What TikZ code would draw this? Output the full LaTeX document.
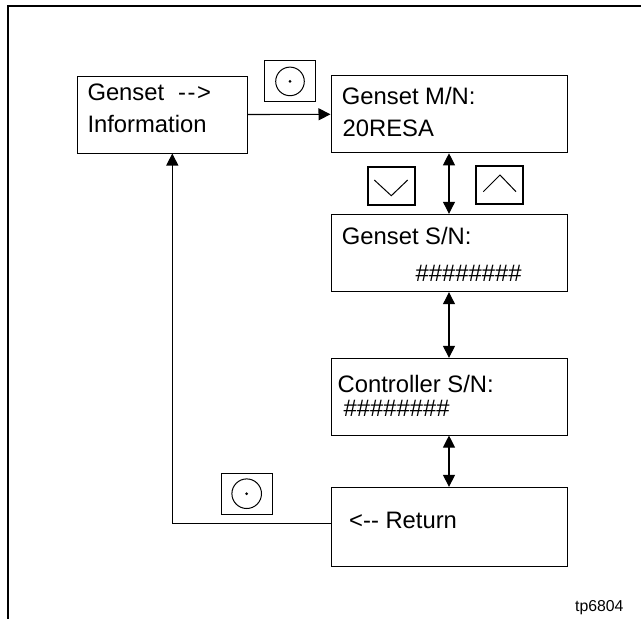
\documentclass[tikz,border=0pt]{standalone}
\usepackage{fontspec}
\setmainfont{Liberation Sans}
\usetikzlibrary{arrows.meta}
\begin{document}
\begin{tikzpicture}[x=1pt,y=-1pt,
  screen/.style={draw,line width=1pt,inner sep=0pt,minimum width=236pt,minimum height=77pt},
  txt/.style={anchor=base west,inner sep=0pt,font=\fontsize{23.8}{28}\selectfont},
  btn/.style={draw,line width=1.1pt,inner sep=0pt,minimum width=51pt,minimum height=41pt},
  kbtn/.style={draw,line width=1.5pt,inner sep=0pt,minimum width=47pt,minimum height=38pt},
  conn/.style={line width=1.1pt},
  tip/.tip={Triangle[length=12pt,width=12pt]}]
\useasboundingbox (0,0) rectangle (641,619);
% frame
\draw[line width=2.3pt] (8,619) -- (8,6) -- (641,6);
% screens
\node[screen,minimum width=170pt] (A) at (162.3,114.5) {};
\node[screen] (B) at (449,114.3) {};
\node[screen,minimum height=77.4pt] (C) at (449,253) {};
\node[screen,minimum height=76.7pt] (D) at (449,396.7) {};
\node[screen,minimum height=78.7pt] (E) at (449,526.7) {};
% texts
\node[txt] (a1) at (87.3,100) {Genset\hspace{14pt}-\kern1.5pt-\kern1.5pt>};
\node[txt] (a2) at (87.3,132.7) {Information};
\node[txt] (b1) at (341.7,104) {Genset M/N:};
\node[txt] (b2) at (342.5,136.7) {20RESA};
\node[txt] (c1) at (341.7,244) {Genset S/N:};
\node[txt] (c2) at (415.5,281.7) {\#\#\#\#\#\#\#\#};
\node[txt] (d1) at (337.5,392.7) {Controller S/N:};
\node[txt] (d2) at (343.5,416) {\#\#\#\#\#\#\#\#};
\node[txt] (e1) at (349,528.3) {<-\kern0pt- Return};
\node[anchor=base west,inner sep=0pt,font=\fontsize{15.8}{18}\selectfont] (tp) at (575,611) {tp6804};
% select buttons
\node[btn] (s1) at (290,81.4) {};
\draw[line width=1pt] (s1.center) circle (14.3pt);
\fill (s1.center) circle (1.5pt);
\node[btn] (s2) at (246.7,493.7) {};
\draw[line width=1pt] (s2.center) circle (14.8pt);
\fill (s2.center) circle (1.5pt);
% down / up buttons
\node[kbtn] (dn) at (391.3,185.8) {};
\draw[line width=1pt] ([shift={(-17,-5.8)}]dn.center) -- ([shift={(0,9.9)}]dn.center) -- ([shift={(16.4,-5.8)}]dn.center);
\node[kbtn] (up) at (499.7,185.2) {};
\draw[line width=1pt] ([shift={(-16.4,6.5)}]up.center) -- ([shift={(0.3,-10.2)}]up.center) -- ([shift={(16.3,6.5)}]up.center);
% connectors
\draw[conn,-tip] (A.east) -- (B.west);
\draw[conn,tip-tip] (B.south) -- (C.north);
\draw[conn,tip-tip] (C.south) -- (D.north);
\draw[conn,tip-tip] (D.south) -- (E.north);
\coordinate (r1) at (172.3,523.7);
\draw[conn,-tip] (E.west |- r1) -- (r1) -- (r1 |- A.south);
\end{tikzpicture}
\end{document}
